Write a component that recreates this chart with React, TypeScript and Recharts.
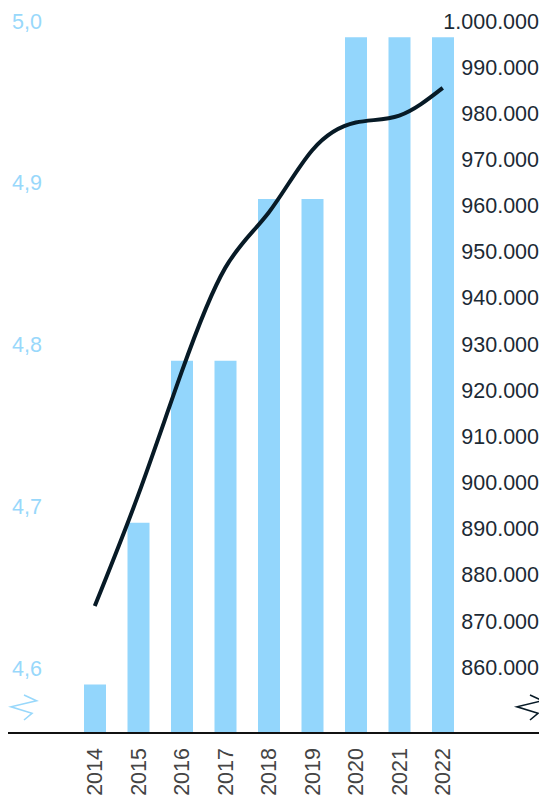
import React from "react";
import { ComposedChart, Bar, Line, XAxis, YAxis } from "recharts";

// years on the category axis
const years = ["2014", "2015", "2016", "2017", "2018", "2019", "2020", "2021", "2022"];
// bar series (left axis)
const scores = [4.59, 4.69, 4.79, 4.79, 4.89, 4.89, 4.99, 4.99, 4.99];
// line series (right axis)
const totals = [873200, 897300, 924000, 946500, 958500, 972000, 978000, 979500, 985500];

const leftTicks = [4.6, 4.7, 4.8, 4.9, 5.0];
const rightTicks = [860000, 870000, 880000, 890000, 900000, 910000, 920000, 930000, 940000, 950000, 960000, 970000, 980000, 990000, 1000000];

const data = years.map((year, i) => ({ year, score: scores[i], total: totals[i] }));

const BLUE = "#93d6fc";
const LABEL_BLUE = "#98d8fb";
const NAVY = "#071a26";
const FONT = "'Liberation Sans', Arial, sans-serif";

const fmtScore = (v: number) => v.toFixed(1).replace(".", ",");
const fmtTotal = (v: number) => v.toLocaleString("en-US").replace(/,/g, ".");

// small zigzag showing the axis doesn't start at zero
const BreakMark = ({ x, color }: { x: number; color: string }) => (
  <polyline
    points={`${x + 13},695 ${x + 25.5},700.7 ${x},706.8 ${x + 21},713.3 ${x + 13},720`}
    fill="none"
    stroke={color}
    strokeWidth={1.6}
  />
);

export default function App() {
  return (
    <div style={{ position: "relative", margin: "-8px 0 0 -8px", width: 547, height: 800 }}>
      <ComposedChart
        width={547}
        height={800}
        data={data}
        margin={{ top: 21, right: 0, left: 8, bottom: 0 }}
        style={{ fontFamily: FONT }}
      >
        <XAxis
          dataKey="year"
          height={67}
          padding={{ left: 65, right: 82.5 }}
          axisLine={{ stroke: "#111", strokeWidth: 2 }}
          tickLine={false}
          interval={0}
          angle={-90}
          textAnchor="end"
          tickMargin={9}
          dx={-8}
          tick={{ fill: "#444", fontSize: 21.5 }}
        />
        <YAxis
          yAxisId="left"
          orientation="left"
          mirror
          domain={[4.56, 5.0]}
          allowDataOverflow
          ticks={leftTicks}
          tickFormatter={fmtScore}
          axisLine={false}
          tickLine={false}
          tickSize={2}
          tick={{ fill: LABEL_BLUE, fontSize: 21.5 }}
        />
        <YAxis
          yAxisId="right"
          orientation="right"
          mirror
          domain={[845700, 1000000]}
          allowDataOverflow
          ticks={rightTicks}
          tickFormatter={fmtTotal}
          axisLine={false}
          tickLine={false}
          tick={{ fill: "#1c2a35", fontSize: 21.5 }}
        />
        <Bar yAxisId="left" dataKey="score" fill={BLUE} barSize={22} isAnimationActive={false} />
        <Line
          yAxisId="right"
          dataKey="total"
          type="natural"
          stroke={NAVY}
          strokeWidth={4}
          dot={false}
          isAnimationActive={false}
        />
      </ComposedChart>
      <svg
        width={547}
        height={800}
        style={{ position: "absolute", left: 0, top: 0, pointerEvents: "none" }}
      >
        <BreakMark x={11} color={LABEL_BLUE} />
        <BreakMark x={517} color={NAVY} />
      </svg>
    </div>
  );
}
